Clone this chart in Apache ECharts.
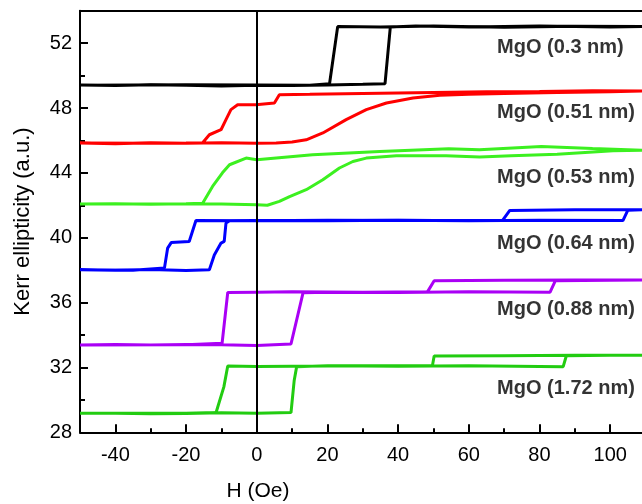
<!DOCTYPE html>
<html>
<head>
<meta charset="utf-8">
<script src="https://cdn.jsdelivr.net/npm/echarts@6/dist/echarts.min.js"></script>
<style>
html,body{margin:0;padding:0;background:#fff;}
#chart{width:642px;height:504px;}
</style>
</head>
<body>
<div id="chart"></div>
<script>
// ---- data (H in Oe, Kerr ellipticity in a.u.) ----
const xMajorTicks = [-40, -20, 0, 20, 40, 60, 80, 100];
const xMinorTicks = [-50, -30, -10, 10, 30, 50, 70, 90];
const yMajorTicks = [28, 32, 36, 40, 44, 48, 52];
const yMinorTicks = [30, 34, 38, 42, 46, 50];

const mgo030 = [
  [-50,49.42],[-40,49.38],[-30,49.44],[-20,49.40],[-10,49.36],[0,49.40],[10,49.38],[20,49.42],[30,49.46],[36.3,49.50],
  [37.8,53.0],[45,53.05],[60,53.0],[80,53.05],[100,53.0],[109,53.02],
  [90,53.04],[70,52.98],[50,53.05],[35,53.0],[22.9,53.02],
  [20.6,49.50],[15,49.40],[0,49.42],[-20,49.44],[-50,49.40]
];
const mgo051 = [
  [-50,45.84],[-40,45.80],[-30,45.85],[-20,45.82],[-10,45.86],[0,45.82],[5.5,45.84],[10,45.90],[14,46.04],[18.7,46.46],
  [25.3,47.28],[31,47.90],[36.7,48.31],[44.2,48.62],[51.8,48.78],[60,48.85],[70,48.90],[85,48.95],[100,49.0],[109,49.05],
  [95,49.06],[80,49.02],[65,49.0],[50,48.96],[30,48.90],[15,48.84],[6.4,48.82],[5.0,48.31],[-0.2,48.20],[-5.4,48.20],
  [-7.3,47.90],[-8.7,47.28],[-10.1,46.66],[-13.4,46.35],[-15.3,45.86],[-20,45.84],[-30,45.82],[-50,45.84]
];
const mgo053 = [
  [-50,42.08],[-40,42.10],[-30,42.06],[-20,42.10],[-10,42.08],[0,42.04],[3,42.0],[6.4,42.24],[9.3,42.54],[14,42.96],
  [18.7,43.57],[23.4,44.30],[27.2,44.70],[31,44.91],[39.5,45.06],[53.6,45.06],[63.1,44.98],[72,45.05],[85,45.15],[100.8,45.36],[109,45.40],
  [95,45.50],[80.5,45.62],[63,45.42],[54.3,45.49],[34.8,45.32],[15.8,45.12],[0,44.81],[-3,44.91],[-7.7,44.50],
  [-9.7,44.0],[-12.5,43.16],[-15.3,42.13],[-20,42.10],[-30,42.08],[-50,42.08]
];
const mgo064 = [
  [-50,38.02],[-40,38.0],[-30,38.04],[-20,37.98],[-13.4,38.02],[-12.0,38.94],[-10.1,39.67],[-9.2,39.77],[-8.7,40.9],[-7.7,41.05],
  [0,41.06],[20,41.04],[40,41.08],[60,41.05],[80,41.08],[103.6,41.06],[105,41.70],[109,41.72],
  [90,41.72],[71.6,41.68],[69.6,41.08],[50,41.06],[20,41.08],[0,41.05],[-17.2,41.06],
  [-19.1,39.77],[-24.2,39.70],[-25.2,39.36],[-26.1,38.14],[-26.4,38.02],[-35,38.0],[-50,38.02]
];
const mgo088 = [
  [-50,33.39],[-40,33.42],[-30,33.38],[-20,33.42],[-10,33.40],[0,33.36],[9.7,33.45],[13.1,36.60],[20,36.64],[40,36.62],
  [60,36.66],[83,36.64],[84.5,37.35],[100,37.38],[109,37.40],
  [90,37.40],[70,37.38],[50.2,37.35],[48.3,36.66],[30,36.64],[10,36.66],[0,36.64],[-8.2,36.62],[-9.8,33.49],[-20,33.40],[-50,33.39]
];
const mgo172 = [
  [-50,29.17],[-40,29.18],[-30,29.14],[-20,29.16],[-10,29.20],[0,29.18],[9.7,29.22],[10.6,31.2],[11.3,32.05],[20,32.10],
  [40,32.08],[60,32.10],[86.7,32.05],[87.6,32.72],[100,32.75],[109,32.75],
  [90,32.75],[70,32.72],[50.2,32.70],[49.7,32.10],[30,32.10],[10,32.08],[0,32.06],[-8.2,32.09],[-9.3,30.8],[-11.5,29.22],[-20,29.18],[-50,29.17]
];

const sampleNames = ['MgO (0.3 nm)', 'MgO (0.51 nm)', 'MgO (0.53 nm)', 'MgO (0.64 nm)', 'MgO (0.88 nm)', 'MgO (1.72 nm)'];
const labelH = [68, 68, 68, 68, 68, 68];
const labelK = [51.72, 47.71, 43.70, 39.63, 35.56, 30.68];
const loops = [mgo030, mgo051, mgo053, mgo064, mgo088, mgo172];
const colors = ['#000000', '#ff0000', '#3cf020', '#0000ff', '#aa00f5', '#22cc11'];

const FONT = '"Liberation Sans", Arial, Helvetica, sans-serif';
const X_MIN = -50, X_MAX = 109, Y_MIN = 28, Y_MAX = 54;

const chart = echarts.init(document.getElementById('chart'), null, {renderer: 'canvas'});

const series = loops.map((d, i) => ({
  type: 'line',
  name: sampleNames[i],
  data: d,
  xAxisIndex: 0, yAxisIndex: 0,
  showSymbol: false, symbol: 'none',
  lineStyle: {color: colors[i], width: 3},
  itemStyle: {color: colors[i]},
  silent: true,
  animation: false
}));

series.push({
  type: 'scatter',
  xAxisIndex: 0, yAxisIndex: 0,
  symbolSize: 0,
  silent: true,
  animation: false,
  z: 10,
  data: sampleNames.map((n, i) => ({name: n, value: [labelH[i], labelK[i]]})),
  label: {
    show: true, position: 'right', distance: 0,
    formatter: p => p.name,
    color: '#000', fontFamily: FONT, fontWeight: 'bold', fontSize: 20
  },
  markLine: {
    silent: true, symbol: 'none', animation: false,
    label: {show: false},
    lineStyle: {color: '#000', width: 2, type: 'solid'},
    data: [{xAxis: 0}]
  }
});

const axisBase = {
  type: 'value', min: X_MIN, max: X_MAX,
  splitLine: {show: false}
};

chart.setOption({
  animation: false,
  backgroundColor: '#fff',
  grid: {left: 80, top: 10.7, right: 0, bottom: 71.7, containLabel: false},
  xAxis: [
    Object.assign({}, axisBase, {
      position: 'bottom',
      axisLine: {show: true, onZero: false, lineStyle: {color: '#000', width: 2}},
      axisTick: {show: true, inside: true, length: 8, lineStyle: {color: '#000', width: 2}, customValues: xMajorTicks},
      axisLabel: {show: true, margin: 13, color: '#000', fontSize: 20, fontFamily: FONT, customValues: xMajorTicks},
      minorTick: {show: false}
    }),
    Object.assign({}, axisBase, {
      position: 'bottom',
      axisLine: {show: false, onZero: false},
      axisTick: {show: true, inside: true, length: 4, lineStyle: {color: '#000', width: 2}, customValues: xMinorTicks},
      axisLabel: {show: false}
    }),
    Object.assign({}, axisBase, {
      position: 'top',
      axisLine: {show: true, onZero: false, lineStyle: {color: '#000', width: 2}},
      axisTick: {show: false},
      axisLabel: {show: false}
    })
  ],
  yAxis: [
    {
      type: 'value', min: Y_MIN, max: Y_MAX, position: 'left',
      name: 'Kerr ellipticity (a.u.)', nameLocation: 'middle', nameGap: 46,
      nameTextStyle: {color: '#000', fontSize: 22, fontFamily: FONT},
      splitLine: {show: false},
      axisLine: {show: true, onZero: false, lineStyle: {color: '#000', width: 2}},
      axisTick: {show: true, inside: true, length: 8, lineStyle: {color: '#000', width: 2}, customValues: yMajorTicks},
      axisLabel: {show: true, margin: 8, color: '#000', fontSize: 20, fontFamily: FONT, customValues: yMajorTicks}
    },
    {
      type: 'value', min: Y_MIN, max: Y_MAX, position: 'left',
      splitLine: {show: false},
      axisLine: {show: false, onZero: false},
      axisTick: {show: true, inside: true, length: 5, lineStyle: {color: '#000', width: 2}, customValues: yMinorTicks},
      axisLabel: {show: false}
    }
  ],
  graphic: [{
    type: 'text', x: 258, y: 491,
    style: {text: 'H (Oe)', fill: '#000', font: '21px ' + FONT, align: 'center', verticalAlign: 'middle'}
  }],
  series: series
});
</script>
</body>
</html>
